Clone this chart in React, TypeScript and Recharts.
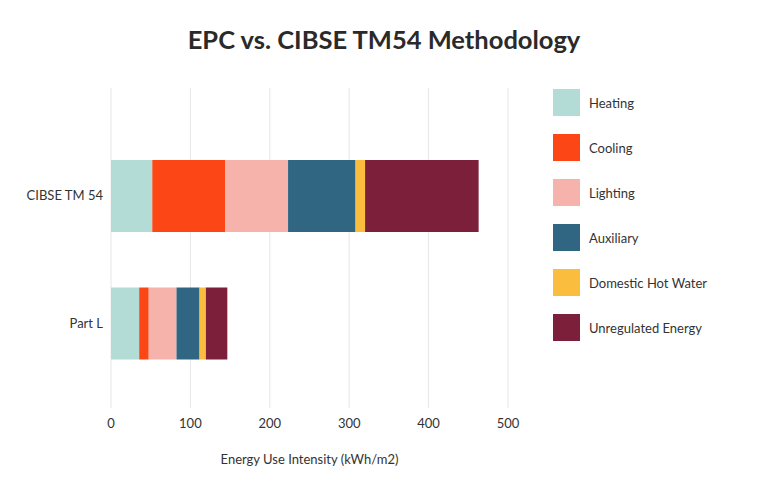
import React from "react";
import { BarChart, Bar, XAxis, YAxis, CartesianGrid, Label } from "recharts";

const categories = ["CIBSE TM 54", "Part L"];
const heating = [52, 35.5];
const cooling = [92, 12];
const lighting = [79, 35];
const auxiliary = [85, 29];
const hotWater = [12, 8];
const unregulated = [143, 27];
const xTicks = [0, 100, 200, 300, 400, 500];

const series = [
  { key: "heating", name: "Heating", color: "#b3dcd7", values: heating },
  { key: "cooling", name: "Cooling", color: "#fc4616", values: cooling },
  { key: "lighting", name: "Lighting", color: "#f6b3ab", values: lighting },
  { key: "auxiliary", name: "Auxiliary", color: "#306681", values: auxiliary },
  { key: "hotWater", name: "Domestic Hot Water", color: "#fbbd3d", values: hotWater },
  { key: "unregulated", name: "Unregulated Energy", color: "#7b1f3b", values: unregulated },
];

const data = categories.map((c, i) => {
  const row: Record<string, string | number> = { name: c };
  series.forEach((s) => (row[s.key] = s.values[i]));
  return row;
});

const font = "Lato, 'Open Sans', sans-serif";

const LegendBox = () => (
  <div style={{ position: "absolute", left: 553, top: 80, fontFamily: font }}>
    {series.map((s) => (
      <div key={s.key} style={{ display: "flex", alignItems: "center", height: 45 }}>
        <div style={{ width: 27, height: 27, background: s.color }} />
        <span style={{ marginLeft: 9, fontSize: 13, color: "#333" }}>{s.name}</span>
      </div>
    ))}
  </div>
);

export default function App() {
  return (
    <div style={{ position: "absolute", left: 0, top: 0, width: 768, height: 494, background: "#fff" }}>
      <div
        style={{
          position: "absolute",
          top: 24,
          width: 768,
          textAlign: "center",
          fontFamily: font,
          fontSize: 25.5,
          fontWeight: 700,
          color: "#2a2a2a",
        }}
      >
        EPC vs. CIBSE TM54 Methodology
      </div>
      <BarChart
        width={768}
        height={494}
        data={data}
        layout="vertical"
        margin={{ top: 88, right: 260, left: 0, bottom: 30 }}
      >
        <CartesianGrid horizontal={false} stroke="#e6e6e6" />
        <XAxis
          type="number"
          domain={[0, 500]}
          ticks={xTicks}
          axisLine={false}
          tickLine={false}
          height={56}
          tick={{ fill: "#333", fontSize: 13, fontFamily: font, dy: 3 }}
        >
          <Label
            value="Energy Use Intensity (kWh/m2)"
            position="insideBottom"
            offset={0}
            style={{ fill: "#333", fontSize: 13, fontFamily: font }}
          />
        </XAxis>
        <YAxis
          type="category"
          dataKey="name"
          width={111}
          axisLine={false}
          tickLine={false}
          padding={{ top: 44, bottom: 21 }}
          tick={{ fill: "#333", fontSize: 13, fontFamily: font }}
        />
        {series.map((s) => (
          <Bar
            key={s.key}
            dataKey={s.key}
            name={s.name}
            stackId="a"
            fill={s.color}
            barSize={72}
            isAnimationActive={false}
          />
        ))}
      </BarChart>
      <LegendBox />
    </div>
  );
}
